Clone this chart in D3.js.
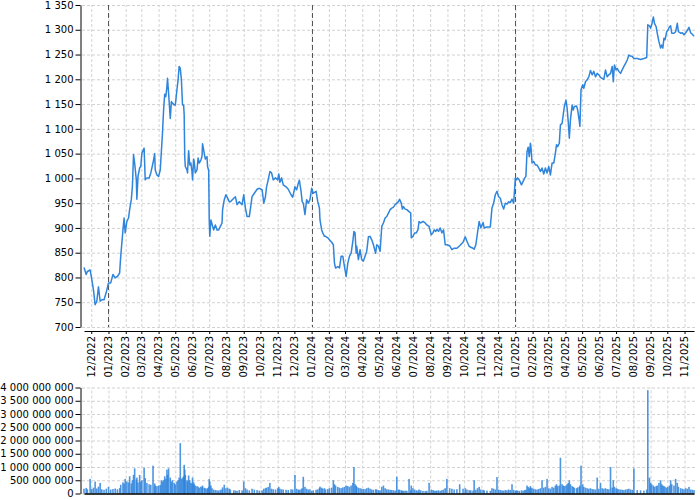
<!DOCTYPE html>
<html>
<head>
<meta charset="utf-8">
<script src="https://cdn.jsdelivr.net/npm/d3@7"></script>
<style>
body { margin: 0; background: #fff; }
svg { display: block; }
.grid line { stroke: #d2d2d2; stroke-dasharray: 3,2; }
.grid .domain { display: none; }
.axis text { font-family: "DejaVu Sans", sans-serif; font-size: 10px; fill: #000; }
</style>
</head>
<body>
<svg id="main" width="700" height="500"></svg>
<script>
// one line per month
var dates = [
  "2022-11-18","2022-11-22","2022-11-24","2022-11-29",
  "2022-12-02","2022-12-05","2022-12-08","2022-12-11","2022-12-14","2022-12-17","2022-12-20","2022-12-24","2022-12-28",
  "2023-01-01","2023-01-05","2023-01-09","2023-01-13","2023-01-17","2023-01-21","2023-01-23","2023-01-27","2023-01-29","2023-01-31",
  "2023-02-03","2023-02-06","2023-02-08","2023-02-11","2023-02-13","2023-02-15","2023-02-17","2023-02-20","2023-02-21","2023-02-23","2023-02-26","2023-02-28",
  "2023-03-02","2023-03-06","2023-03-08","2023-03-11","2023-03-15","2023-03-18","2023-03-22","2023-03-25","2023-03-26","2023-03-29",
  "2023-04-01","2023-04-04","2023-04-06","2023-04-08","2023-04-10","2023-04-12","2023-04-14","2023-04-16","2023-04-17","2023-04-19","2023-04-22","2023-04-24","2023-04-26","2023-04-29",
  "2023-05-01","2023-05-04","2023-05-06","2023-05-08","2023-05-10","2023-05-12","2023-05-14","2023-05-16","2023-05-17","2023-05-18","2023-05-19","2023-05-22","2023-05-23","2023-05-25","2023-05-27","2023-05-29","2023-05-31",
  "2023-06-01","2023-06-03","2023-06-04","2023-06-06","2023-06-09","2023-06-11","2023-06-13","2023-06-16","2023-06-18","2023-06-19","2023-06-22","2023-06-24","2023-06-27","2023-06-28","2023-06-30",
  "2023-07-01","2023-07-02","2023-07-04","2023-07-06","2023-07-09","2023-07-12","2023-07-15","2023-07-18","2023-07-21","2023-07-24","2023-07-25","2023-07-28","2023-07-31",
  "2023-08-03","2023-08-06","2023-08-08","2023-08-14","2023-08-17","2023-08-20","2023-08-24","2023-08-29",
  "2023-09-01","2023-09-04","2023-09-07","2023-09-11","2023-09-16","2023-09-20","2023-09-25","2023-09-29",
  "2023-10-04","2023-10-07","2023-10-10","2023-10-12","2023-10-15","2023-10-18","2023-10-21","2023-10-24","2023-10-28",
  "2023-11-01","2023-11-03","2023-11-05","2023-11-08","2023-11-11","2023-11-16","2023-11-20","2023-11-25","2023-11-28",
  "2023-12-02","2023-12-05","2023-12-08","2023-12-10","2023-12-13","2023-12-15","2023-12-17","2023-12-20","2023-12-23","2023-12-26","2023-12-29",
  "2024-01-01","2024-01-04","2024-01-09","2024-01-12","2024-01-15","2024-01-16","2024-01-19","2024-01-21","2024-01-24","2024-01-26","2024-01-30",
  "2024-02-02","2024-02-06","2024-02-09","2024-02-11","2024-02-13","2024-02-17","2024-02-20","2024-02-23","2024-02-26","2024-02-29",
  "2024-03-03","2024-03-06","2024-03-09","2024-03-12","2024-03-15","2024-03-17","2024-03-19","2024-03-21","2024-03-22","2024-03-25","2024-03-28","2024-03-31",
  "2024-04-03","2024-04-06","2024-04-09","2024-04-12","2024-04-15","2024-04-18","2024-04-21","2024-04-25","2024-04-27","2024-04-30",
  "2024-05-03","2024-05-06","2024-05-09","2024-05-12","2024-05-15","2024-05-18","2024-05-21","2024-05-24","2024-05-27","2024-05-30",
  "2024-06-02","2024-06-05","2024-06-07","2024-06-10","2024-06-12","2024-06-14","2024-06-17","2024-06-20","2024-06-24","2024-06-27","2024-06-28",
  "2024-07-01","2024-07-04","2024-07-07","2024-07-10","2024-07-12","2024-07-15","2024-07-19","2024-07-23","2024-07-26","2024-07-30",
  "2024-08-03","2024-08-06","2024-08-08","2024-08-11","2024-08-13","2024-08-16","2024-08-19","2024-08-22","2024-08-25","2024-08-28","2024-08-31",
  "2024-09-05","2024-09-09","2024-09-13","2024-09-18","2024-09-23","2024-09-29",
  "2024-10-03","2024-10-06","2024-10-10","2024-10-13","2024-10-17","2024-10-19","2024-10-22","2024-10-25","2024-10-28","2024-10-31",
  "2024-11-04","2024-11-06","2024-11-11","2024-11-17","2024-11-20","2024-11-23","2024-11-26","2024-11-29",
  "2024-12-02","2024-12-05","2024-12-08","2024-12-11","2024-12-14","2024-12-17","2024-12-20","2024-12-23","2024-12-26","2024-12-29",
  "2025-01-01","2025-01-03","2025-01-05","2025-01-08","2025-01-12","2025-01-15","2025-01-18","2025-01-20","2025-01-22","2025-01-24","2025-01-26","2025-01-28","2025-01-29","2025-01-31",
  "2025-02-03","2025-02-06","2025-02-09","2025-02-12","2025-02-15","2025-02-18","2025-02-21","2025-02-24","2025-02-27",
  "2025-03-02","2025-03-05","2025-03-08","2025-03-11","2025-03-14","2025-03-16","2025-03-18","2025-03-21","2025-03-23","2025-03-26","2025-03-28","2025-03-30",
  "2025-04-02","2025-04-04","2025-04-06","2025-04-08","2025-04-10","2025-04-13","2025-04-15","2025-04-17","2025-04-21","2025-04-23","2025-04-26","2025-04-27","2025-04-29",
  "2025-05-02","2025-05-04","2025-05-07","2025-05-10","2025-05-13","2025-05-16","2025-05-19","2025-05-22","2025-05-25","2025-05-28","2025-05-31",
  "2025-06-03","2025-06-06","2025-06-09","2025-06-12","2025-06-15","2025-06-18","2025-06-21","2025-06-24","2025-06-26","2025-06-28",
  "2025-07-01","2025-07-03","2025-07-06","2025-07-09","2025-07-12","2025-07-15","2025-07-18","2025-07-21","2025-07-24","2025-07-27","2025-07-30",
  "2025-08-02","2025-08-08","2025-08-14","2025-08-20","2025-08-25","2025-08-27","2025-08-30",
  "2025-09-01","2025-09-03","2025-09-06","2025-09-08","2025-09-11","2025-09-13","2025-09-16","2025-09-19","2025-09-21","2025-09-23","2025-09-25","2025-09-27","2025-09-30",
  "2025-10-02","2025-10-05","2025-10-07","2025-10-09","2025-10-13","2025-10-16","2025-10-19","2025-10-21","2025-10-25","2025-10-28","2025-10-31",
  "2025-11-03","2025-11-06","2025-11-09","2025-11-12","2025-11-15","2025-11-18"
];

var closes = [
  820,806,812,815,
  796,775,745,752,781,752,755,755,770,
  789,789,806,799,802,809,843,896,920,890,
  913,920,937,957,984,1048,1031,997,958,1004,1021,1024,
  1051,1061,997,1001,1001,1011,1031,1050,1017,1007,
  1004,1017,1054,1091,1138,1170,1165,1185,1202,1172,1121,1155,1152,1148,
  1148,1179,1199,1226,1222,1199,1148,1148,1128,1044,1024,1017,1011,1056,1027,1031,1014,
  997,1039,1034,1011,1017,1041,1031,1037,1044,1070,1051,1039,1044,1024,1016,
  916,883,916,908,896,906,896,896,903,910,937,957,967,
  960,953,953,960,963,947,953,947,
  967,940,923,923,963,970,978,980,
  977,950,963,983,997,1014,1011,997,1001,
  997,1009,992,1001,987,983,978,967,962,
  983,977,990,996,974,953,950,927,957,950,957,
  980,970,974,953,940,916,896,890,883,883,880,
  876,871,866,829,819,822,819,843,843,822,
  802,829,843,849,873,893,890,849,863,836,856,836,
  833,843,853,882,883,876,866,849,866,863,
  853,903,910,920,923,930,937,940,942,947,
  950,953,958,950,938,943,938,937,933,930,880,
  883,890,890,896,913,910,913,910,906,903,
  886,890,896,893,897,893,900,890,896,866,866,
  864,856,859,859,864,871,
  882,873,863,861,859,857,866,890,913,900,
  911,900,902,902,940,950,967,974,
  963,960,947,938,950,948,953,951,958,950,
  1001,997,1001,997,987,994,1001,1004,1054,1063,1044,1071,1064,1031,
  1034,1027,1027,1021,1014,1021,1009,1021,1011,
  1024,1007,1031,1031,1051,1068,1064,1071,1108,1111,1128,1145,
  1158,1142,1115,1081,1118,1148,1138,1145,1146,1138,1115,1105,1179,
  1189,1182,1195,1199,1205,1218,1209,1216,1205,1212,1209,
  1204,1202,1200,1219,1205,1209,1212,1226,1195,1229,
  1219,1222,1216,1212,1219,1226,1232,1239,1249,1247,1246,
  1242,1242,1240,1242,1244,1310,1308,
  1303,1310,1326,1313,1306,1293,1276,1263,1269,1263,1283,1280,1296,
  1299,1306,1308,1293,1293,1296,1313,1296,1293,1294,1290,
  1294,1299,1305,1294,1291,1287
];

// volume, millions
var volumes = [
  180,210,160,550,
  170,220,450,190,260,400,160,140,180,
  250,150,170,190,160,200,330,420,380,550,
  450,420,650,380,500,700,950,520,600,420,700,450,
  500,970,580,400,350,330,1050,380,300,280,
  300,320,500,450,500,650,550,900,700,950,600,450,500,400,
  350,450,500,600,1900,550,600,650,1080,900,700,500,450,680,500,400,380,
  600,420,350,300,280,250,220,260,240,300,220,200,180,200,250,
  550,450,300,200,150,130,120,110,140,150,230,330,200,
  220,180,150,120,110,100,130,120,
  450,200,150,120,180,150,130,110,
  120,180,200,220,250,400,180,160,150,
  200,250,180,160,150,140,130,160,150,
  700,180,150,140,160,200,630,250,180,150,160,
  100,120,140,160,200,260,220,180,200,150,170,
  200,220,500,350,300,250,220,200,230,250,
  300,280,250,300,400,1000,350,300,250,220,200,180,
  170,160,200,220,180,150,140,160,150,130,
  120,250,300,200,160,150,140,130,120,110,
  630,150,140,120,110,100,110,100,550,120,300,
  200,150,120,110,150,120,100,90,100,400,
  150,130,110,100,110,120,100,130,150,200,550,
  200,180,150,160,350,180,
  200,150,130,120,110,500,140,200,250,150,
  140,120,110,100,200,180,150,620,
  150,130,120,110,130,120,150,130,350,140,
  100,120,110,100,120,110,130,140,300,250,200,280,220,200,
  180,160,150,170,200,500,220,250,550,
  200,180,250,220,300,350,280,300,1350,350,300,280,
  300,350,400,500,350,280,250,220,200,230,250,300,1050,
  350,250,220,200,180,200,170,160,150,600,180,
  400,200,180,200,170,160,1000,220,500,250,
  200,180,160,150,140,130,150,160,180,150,140,
  950,130,120,110,150,3900,600,
  400,350,300,250,280,300,400,500,350,300,280,250,220,
  250,300,500,350,300,550,400,250,200,180,160,
  200,180,250,150,140,130
];

var priceTicks = d3.range(700, 1351, 50);
var volumeTicks = d3.range(0, 4000000001, 500000000);

var parseDate = d3.timeParse("%Y-%m-%d");
var data = dates.map(function(d, i) {
  return {date: parseDate(d), close: closes[i], volume: volumes[i] * 1e6};
});

var ru = d3.formatLocale({decimal: ",", thousands: " ", grouping: [3], currency: ["", ""]});
var fmt = ru.format(",d");

var svg = d3.select("#main");

var left = 84, right = 694;
var priceTop = 5, priceBottom = 327;
var volTop = 387.5, volBottom = 493.5;

var x = d3.scaleTime()
  .domain(d3.extent(data, function(d) { return d.date; }))
  .range([left, right]);

var y = d3.scaleLinear().domain([700, 1350]).range([priceBottom, priceTop]);
var yVol = d3.scaleLinear().domain([0, 4000000000]).range([volBottom, volTop]);

var months = d3.timeMonth.every(1);

// grids, price panel
svg.append("g")
  .attr("class", "grid")
  .attr("transform", "translate(" + (left - 2) + ",0)")
  .call(d3.axisLeft(y).tickValues(priceTicks).tickSize(-(right - left + 3)).tickFormat(""));
svg.append("g")
  .attr("class", "grid")
  .attr("transform", "translate(0," + priceBottom + ")")
  .call(d3.axisBottom(x).ticks(months).tickSize(-(priceBottom - priceTop)).tickFormat(""));

// grids, volume panel
svg.append("g")
  .attr("class", "grid")
  .attr("transform", "translate(" + (left - 2) + ",0)")
  .call(d3.axisLeft(yVol).tickValues(volumeTicks).tickSize(-(right - left + 3)).tickFormat(""));
svg.append("g")
  .attr("class", "grid")
  .attr("transform", "translate(0," + volBottom + ")")
  .call(d3.axisBottom(x).ticks(months).tickSize(-(volBottom - volTop)).tickFormat(""));

// year separators
svg.append("g")
  .selectAll("line")
  .data(x.ticks(d3.timeYear.every(1)))
  .enter()
  .append("line")
    .attr("x1", function(d) { return Math.round(x(d)) + 0.5; })
    .attr("x2", function(d) { return Math.round(x(d)) + 0.5; })
    .attr("y1", priceTop)
    .attr("y2", priceBottom)
    .attr("stroke", "#555")
    .attr("stroke-dasharray", "5,3");

// price line
svg.append("path")
  .datum(data)
  .attr("fill", "none")
  .attr("stroke", "#2f84dc")
  .attr("stroke-width", 1.5)
  .attr("stroke-linejoin", "round")
  .attr("d", d3.line()
    .x(function(d) { return x(d.date); })
    .y(function(d) { return y(d.close); }));

// volume bars
svg.append("g")
  .selectAll("rect")
  .data(data)
  .enter()
  .append("rect")
    .attr("x", function(d) { return x(d.date) - 0.8; })
    .attr("width", 1.6)
    .attr("y", function(d) { return yVol(d.volume); })
    .attr("height", function(d) { return volBottom - yVol(d.volume); })
    .attr("fill", "#2f84dc")
    .attr("opacity", 0.85);

// axes
svg.append("g")
  .attr("class", "axis")
  .attr("transform", "translate(80.5,0)")
  .call(d3.axisLeft(y).tickValues(priceTicks).tickSize(5).tickPadding(2).tickSizeOuter(0).tickFormat(fmt));

var xAxis = svg.append("g")
  .attr("class", "axis")
  .attr("transform", "translate(0,331)")
  .call(d3.axisBottom(x).ticks(months).tickSize(3).tickSizeOuter(0).tickFormat(d3.timeFormat("%m/%Y")));
xAxis.selectAll(".tick text")
  .attr("transform", "rotate(-90)")
  .attr("text-anchor", "end")
  .attr("x", -5)
  .attr("y", 0)
  .attr("dy", "0.32em");

svg.append("g")
  .attr("class", "axis")
  .attr("transform", "translate(80.5,0)")
  .call(d3.axisLeft(yVol).tickValues(volumeTicks).tickSize(5).tickPadding(2).tickSizeOuter(0).tickFormat(fmt));

svg.append("g")
  .attr("class", "axis")
  .attr("transform", "translate(0," + volBottom + ")")
  .call(d3.axisBottom(x).tickValues([]).tickSizeOuter(0))
  .select(".domain")
    .attr("stroke-width", 1.5);
</script>
</body>
</html>
